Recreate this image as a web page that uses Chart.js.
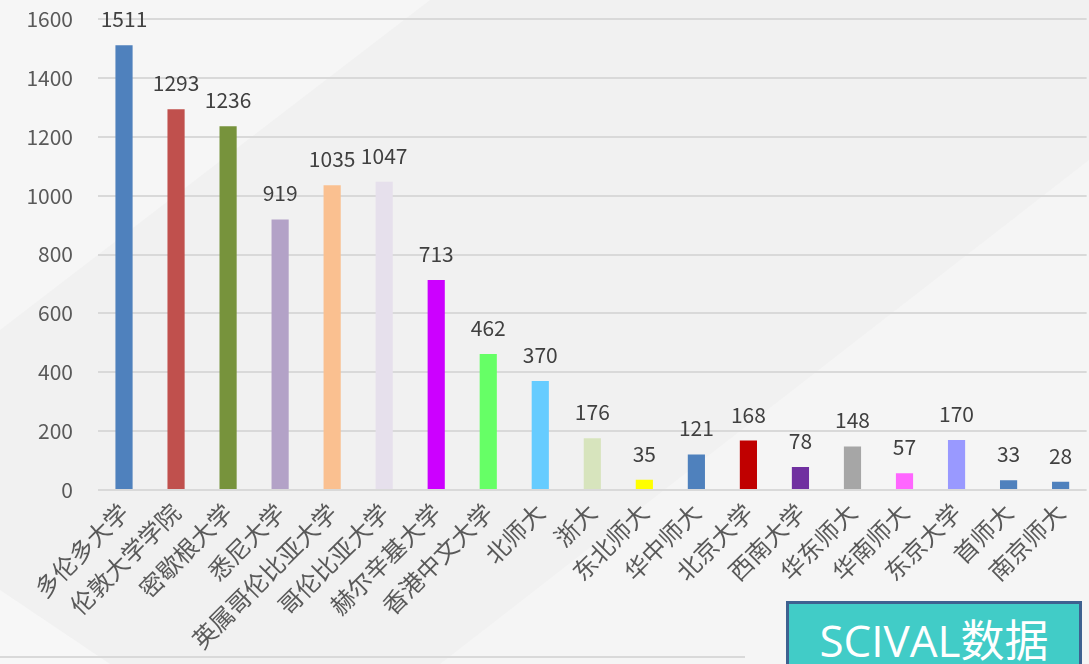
<!DOCTYPE html>
<html>
<head>
<meta charset="utf-8">
<script src="https://cdn.jsdelivr.net/npm/chart.js@4.4.1/dist/chart.umd.min.js"></script>
<style>
  html, body { margin: 0; padding: 0; }
  body {
    width: 1089px; height: 664px; overflow: hidden; position: relative;
    background: #f1f1f1;
    font-family: "Noto Sans CJK SC", sans-serif;
  }
  .shape { position: absolute; left: 0; top: 0; width: 1089px; height: 664px; }
  #shapeA { background: #f5f5f5; clip-path: polygon(1089px 160px, 1089px 664px, 440px 664px); }
  #shapeB { background: #f6f6f6; clip-path: polygon(0 0, 430px 0, 0 330px); }
  #shapeC { background: #f7f7f7; clip-path: polygon(0 590px, 110px 664px, 0 664px); }
  #wrap { position: absolute; left: 0; top: 0; width: 1089px; height: 664px; }
  #baseLine { position: absolute; left: 0; top: 656px; width: 745px; height: 2px; background: #d9d9d9; }
  #tag {
    position: absolute; left: 786px; top: 601px; width: 296px; height: 70px;
    background: #41ccc7; border: 3px solid #3e6190; box-sizing: border-box;
    color: #fff; font-size: 44px; text-align: center; line-height: 72px;
    font-family: "Open Sans", "Noto Sans CJK SC", sans-serif;
  }
</style>
</head>
<body>
<div class="shape" id="shapeB"></div>
<div class="shape" id="shapeA"></div>
<div class="shape" id="shapeC"></div>
<div id="baseLine"></div>
<div id="wrap"><canvas id="schoolChart"></canvas></div>
<div id="tag">SCIVAL数据</div>
<script>
// categories and values
var schools = ['多伦多大学', '伦敦大学学院', '密歇根大学', '悉尼大学', '英属哥伦比亚大学', '哥伦比亚大学',
  '赫尔辛基大学', '香港中文大学', '北师大', '浙大', '东北师大', '华中师大', '北京大学', '西南大学',
  '华东师大', '华南师大', '东京大学', '首师大', '南京师大'];
var counts = [1511, 1293, 1236, 919, 1035, 1047, 713, 462, 370, 176, 35, 121, 168, 78, 148, 57, 170, 33, 28];
var barColors = ['#4f81bd', '#c0504d', '#77933c', '#b3a2c7', '#fac090', '#e6e0ec', '#cc00ff', '#66ff66',
  '#66ccff', '#d7e4bd', '#ffff00', '#4f81bd', '#c00000', '#7030a0', '#a6a6a6', '#ff66ff', '#9999ff',
  '#4f81bd', '#4f81bd'];
var yTicks = [0, 200, 400, 600, 800, 1000, 1200, 1400, 1600];

Chart.defaults.font.family = '"Noto Sans CJK SC", sans-serif';

// draw the number above each bar
var valueLabels = {
  id: 'valueLabels',
  afterDatasetsDraw: function (chart) {
    var ctx = chart.ctx;
    var meta = chart.getDatasetMeta(0);
    ctx.save();
    ctx.font = '21px "Noto Sans CJK SC", sans-serif';
    ctx.fillStyle = '#404040';
    ctx.textAlign = 'center';
    ctx.textBaseline = 'middle';
    meta.data.forEach(function (bar, i) {
      ctx.fillText(String(counts[i]), bar.x, bar.y - 26);
    });
    ctx.restore();
  }
};

var chart = new Chart(document.getElementById('schoolChart'), {
  type: 'bar',
  data: {
    labels: schools,
    datasets: [{
      data: counts,
      backgroundColor: barColors,
      borderWidth: 0,
      barPercentage: 0.33,
      categoryPercentage: 1
    }]
  },
  options: {
    responsive: true,
    maintainAspectRatio: false,
    animation: false,
    layout: { padding: { top: 19, right: 1, bottom: 0, left: 0 } },
    plugins: {
      legend: { display: false },
      tooltip: { enabled: false }
    },
    scales: {
      x: {
        grid: { display: false, drawTicks: false },
        border: { display: false },
        ticks: {
          color: '#595959',
          font: { size: 24 },
          minRotation: 45,
          maxRotation: 45,
          autoSkip: false,
          padding: 8
        },
        afterFit: function (scale) {
          scale.height = 174;
          scale.paddingTop = 0;
        }
      },
      y: {
        min: 0,
        max: 1600,
        afterBuildTicks: function (scale) {
          scale.ticks = yTicks.map(function (v) { return { value: v }; });
        },
        grid: { color: '#d9d9d9', lineWidth: 2, drawTicks: false },
        border: { display: false },
        ticks: {
          color: '#595959',
          font: { size: 21 },
          padding: 25,
          callback: function (v) { return String(v); }
        },
        afterFit: function (scale) {
          scale.width = 98;
          scale.paddingTop = 0;
        }
      }
    }
  },
  plugins: [valueLabels]
});
</script>
</body>
</html>
